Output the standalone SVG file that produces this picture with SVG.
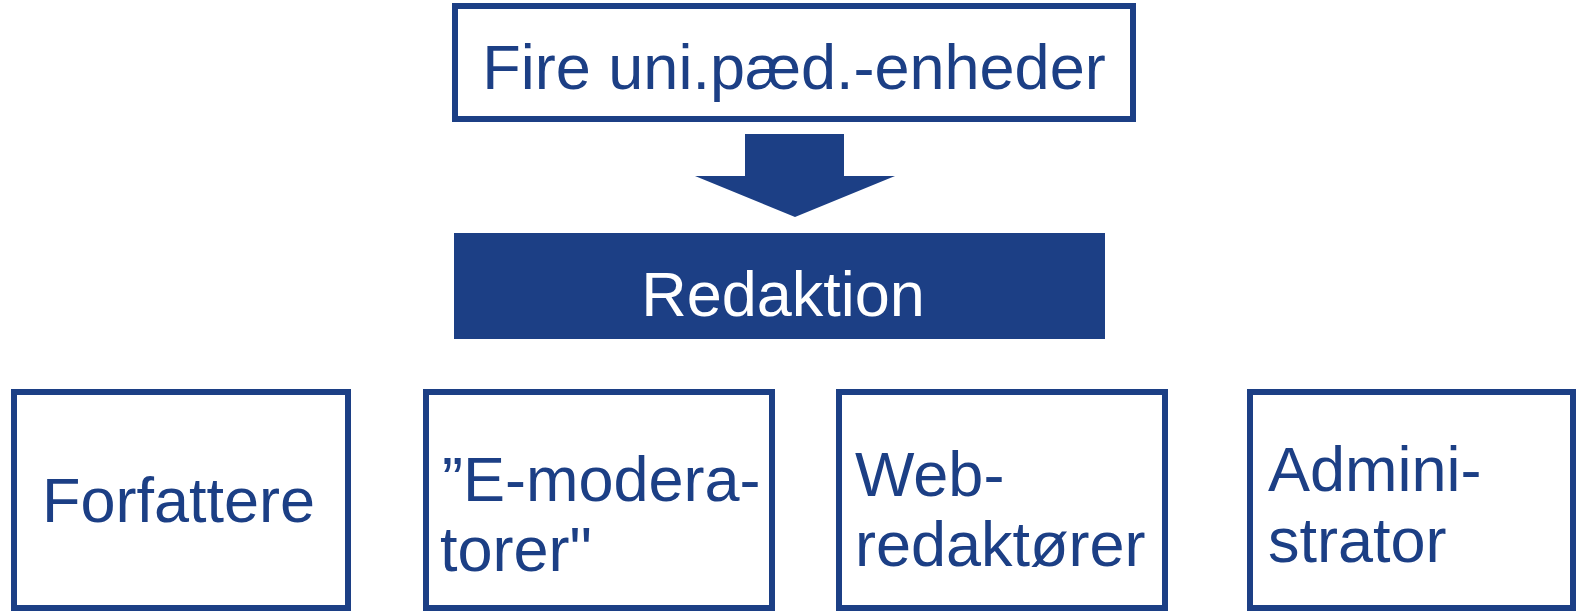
<svg xmlns="http://www.w3.org/2000/svg" width="1581" height="613" viewBox="0 0 1581 613">
  <style>
    .box { fill: #ffffff; stroke: #1c3f85; stroke-width: 6; }
    .solid { fill: #1c3f85; }
    .lbl { font-family: "Liberation Sans", Arial, sans-serif; font-size: 63px; fill: #1c3f85; }
    .inv { fill: #ffffff; }
  </style>
  <rect width="1581" height="613" fill="#ffffff"/>

  <g id="connectors">
    <!-- block arrow from the units down to the editorial board -->
    <polygon class="solid" points="745,134 844,134 844,176 895,176 795,217 695,176 745,176"/>
  </g>

  <g id="units">
    <rect class="box" x="455" y="6" width="678" height="113"/>
    <text class="lbl" x="794" y="89" text-anchor="middle">Fire uni.pæd.-enheder</text>
  </g>

  <g id="redaktion">
    <rect class="solid" x="454" y="233" width="651" height="106"/>
    <text class="lbl inv" x="783" y="316" font-size="64" text-anchor="middle">Redaktion</text>
  </g>

  <g id="forfattere">
    <rect class="box" x="14" y="392" width="334" height="216"/>
    <text class="lbl" x="42" y="522">Forfattere</text>
  </g>

  <g id="e-moderatorer">
    <rect class="box" x="426" y="392" width="346" height="216"/>
    <text class="lbl" x="442" y="501">”E-modera-</text>
    <text class="lbl" x="440" y="571">torer"</text>
  </g>

  <g id="webredaktoerer">
    <rect class="box" x="839" y="392" width="326" height="216"/>
    <text class="lbl" x="855" y="496">Web-</text>
    <text class="lbl" x="855" y="566">redaktører</text>
  </g>

  <g id="administrator">
    <rect class="box" x="1250" y="392" width="323" height="216"/>
    <text class="lbl" x="1268" y="491">Admini-</text>
    <text class="lbl" x="1268" y="562">strator</text>
  </g>
</svg>
